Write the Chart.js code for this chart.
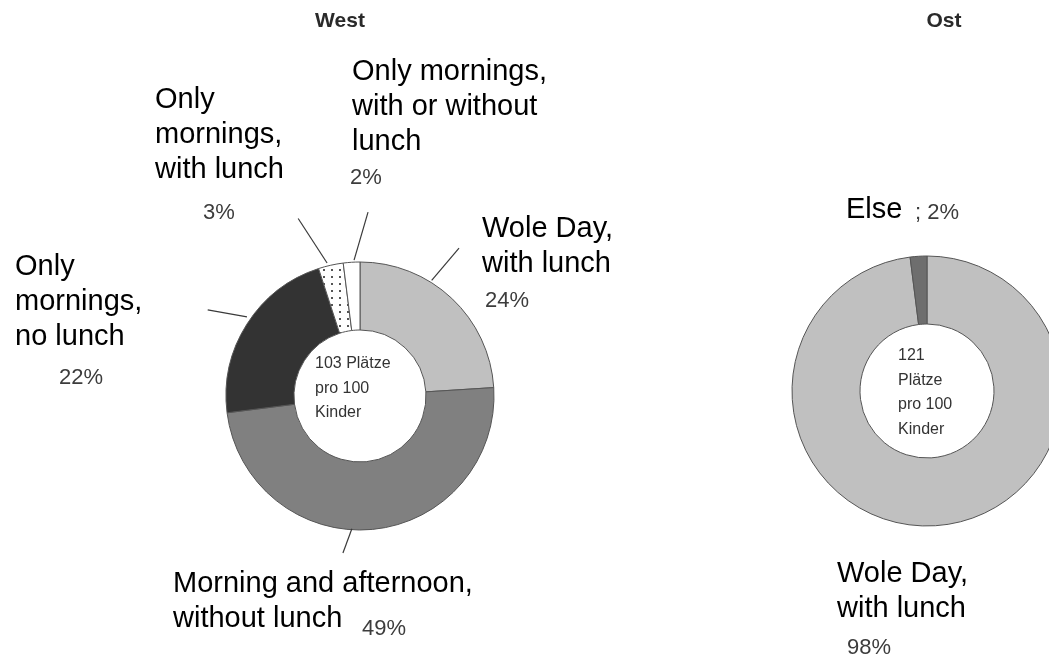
<!DOCTYPE html>
<html>
<head>
<meta charset="utf-8">
<script src="https://cdn.jsdelivr.net/npm/chart.js@4.4.1/dist/chart.umd.min.js"></script>
<style>
  body { margin: 0; background: #fff; overflow: hidden; font-family: Arial, "Liberation Sans", sans-serif; }
  #wrap { position: relative; width: 1049px; height: 656px; }
  canvas { position: absolute; left: 0; top: 0; }
  .txt { position: absolute; white-space: nowrap; }
  .lbl { font-size: 29px; line-height: 35px; color: #000; }
  .pct { font-size: 22px; line-height: 26px; color: #3c3c3c; }
  .ttl { font-size: 21px; line-height: 24px; font-weight: bold; color: #2a2a2a; transform: translateX(-50%); }
  .mid { font-size: 16px; line-height: 24.5px; color: #333; }
</style>
</head>
<body>
<div id="wrap">
  <canvas id="westChart" width="1049" height="656"></canvas>
  <canvas id="ostChart" width="1049" height="656"></canvas>
</div>
<script>
// Data
const westTitle = 'West';
const westCategories = [
  ['Wole Day,', 'with lunch'],
  ['Morning and afternoon,', 'without lunch'],
  ['Only', 'mornings,', 'no lunch'],
  ['Only', 'mornings,', 'with lunch'],
  ['Only mornings,', 'with or without', 'lunch']
];
const westValues = [24, 49, 22, 3, 2];
const westCenterText = ['103 Plätze', 'pro 100', 'Kinder'];

const ostTitle = 'Ost';
const ostCategories = [
  ['Wole Day,', 'with lunch'],
  ['Else']
];
const ostValues = [98, 2];
const ostCenterText = ['121', 'Plätze', 'pro 100', 'Kinder'];

const W = 1049, H = 656;

// Dotted fill for the small slice
function dotPattern() {
  const c = document.createElement('canvas');
  c.width = 8; c.height = 7;
  const g = c.getContext('2d');
  g.fillStyle = '#fff';
  g.fillRect(0, 0, 8, 7);
  g.fillStyle = '#555';
  g.fillRect(3, 3, 2, 2);
  return g.createPattern(c, 'repeat');
}

// Pad the chart area so its centre lands on (cx, cy)
function padFor(cx, cy) {
  return {
    left: cx > W / 2 ? 2 * cx - W : 0,
    right: cx < W / 2 ? W - 2 * cx : 0,
    top: cy > H / 2 ? 2 * cy - H : 0,
    bottom: cy < H / 2 ? H - 2 * cy : 0
  };
}

// Leader lines: angles clockwise from top (deg), radii in px from centre
function leaderPlugin(leaders) {
  return {
    id: 'leaders',
    afterDatasetsDraw(chart) {
      const arc = chart.getDatasetMeta(0).data[0];
      const ctx = chart.ctx;
      ctx.save();
      ctx.strokeStyle = '#3a3a3a';
      ctx.lineWidth = 1.2;
      leaders.forEach(l => {
        const a0 = l.a0 * Math.PI / 180, a1 = l.a1 * Math.PI / 180;
        ctx.beginPath();
        ctx.moveTo(arc.x + l.r0 * Math.sin(a0), arc.y - l.r0 * Math.cos(a0));
        ctx.lineTo(arc.x + l.r1 * Math.sin(a1), arc.y - l.r1 * Math.cos(a1));
        ctx.stroke();
      });
      ctx.restore();
    }
  };
}

function createDonut(elementId, labels, values, colors, geom, leaders) {
  return new Chart(document.getElementById(elementId), {
    type: 'doughnut',
    data: {
      labels: labels,
      datasets: [{
        data: values,
        backgroundColor: colors,
        borderColor: '#555',
        borderWidth: 1
      }]
    },
    options: {
      responsive: false,
      animation: false,
      events: [],
      radius: geom.r,
      cutout: (geom.hole / geom.r * 100) + '%',
      layout: { padding: padFor(geom.cx, geom.cy) },
      plugins: { legend: { display: false }, tooltip: { enabled: false } }
    },
    plugins: [leaderPlugin(leaders)]
  });
}

createDonut('westChart', westCategories, westValues,
  ['#c0c0c0', '#808080', '#333333', dotPattern(), '#ffffff'],
  { cx: 360, cy: 396, r: 134, hole: 66 },
  [
    { a0: 31.8, r0: 136, a1: 33.8, r1: 178 },
    { a0: 183.5, r0: 133, a1: 186.2, r1: 158 },
    { a0: -55, r0: 138, a1: -60.5, r1: 175 },
    { a0: -13.9, r0: 137, a1: -19.2, r1: 188 },
    { a0: -2.5, r0: 136, a1: 2.5, r1: 184 }
  ]);

createDonut('ostChart', ostCategories, ostValues,
  ['#c0c0c0', '#6e6e6e'],
  { cx: 927, cy: 391, r: 135, hole: 67 },
  []);

// Text annotations (positions are layout only)
const wrap = document.getElementById('wrap');
function addText(cls, lines, left, top) {
  const d = document.createElement('div');
  d.className = 'txt ' + cls;
  d.style.left = left + 'px';
  d.style.top = top + 'px';
  d.innerHTML = lines.join('<br>');
  wrap.appendChild(d);
}

addText('ttl', [westTitle], 340, 8);
addText('ttl', [ostTitle], 944, 8);

const westLabelPos = [[482, 210], [173, 565], [15, 248], [155, 81], [352, 53]];
const westPctPos = [[485, 287], [362, 615], [59, 364], [203, 199], [350, 164]];
westCategories.forEach((lines, i) => {
  addText('lbl', lines, westLabelPos[i][0], westLabelPos[i][1]);
  addText('pct', [westValues[i] + '%'], westPctPos[i][0], westPctPos[i][1]);
});

const ostLabelPos = [[837, 555], [846, 191]];
const ostPctPos = [[847, 634], [915, 199]];
ostCategories.forEach((lines, i) => {
  addText('lbl', lines, ostLabelPos[i][0], ostLabelPos[i][1]);
  addText('pct', [(i === 1 ? '; ' : '') + ostValues[i] + '%'], ostPctPos[i][0], ostPctPos[i][1]);
});

addText('mid', westCenterText, 315, 351);
addText('mid', ostCenterText, 898, 343);
</script>
</body>
</html>
